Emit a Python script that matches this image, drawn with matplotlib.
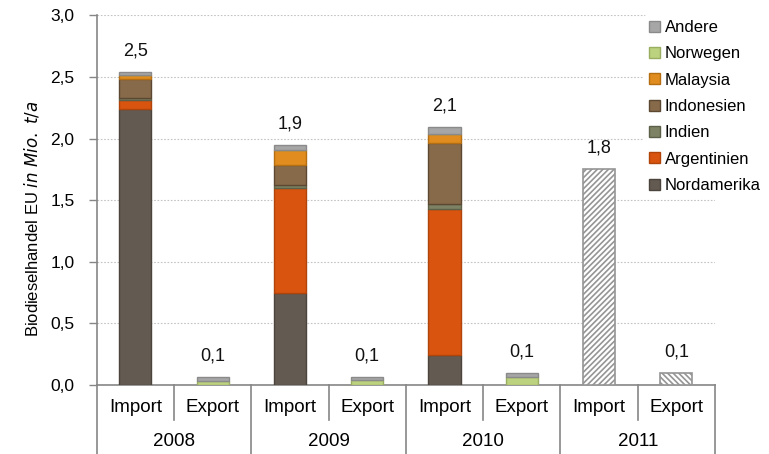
import matplotlib.pyplot as plt
from matplotlib.patches import Patch

# EU biodiesel trade (Mio. t/a), bars: 2008-2010 Import/Export
bars = ["Import", "Export", "Import", "Export", "Import", "Export"]
years = ["2008", "2009", "2010", "2011"]

nordamerika = [2.24, 0.0, 0.75, 0.0, 0.24, 0.0]
argentinien = [0.07, 0.0, 0.85, 0.0, 1.19, 0.0]
indien = [0.015, 0.0, 0.025, 0.0, 0.035, 0.0]
indonesien = [0.155, 0.0, 0.16, 0.0, 0.495, 0.0]
malaysia = [0.033, 0.0, 0.12, 0.0, 0.075, 0.0]
norwegen = [0.0, 0.035, 0.0, 0.037, 0.0, 0.065]
andere = [0.027, 0.027, 0.04, 0.03, 0.055, 0.035]

# 2011 only totals known
total_2011 = [1.75, 0.1]

series = [
    ("Nordamerika", nordamerika, "#635b51", "#4a443c"),
    ("Argentinien", argentinien, "#d9540f", "#b0440b"),
    ("Indien", indien, "#7e8264", "#5d6048"),
    ("Indonesien", indonesien, "#876a4a", "#5c4832"),
    ("Malaysia", malaysia, "#e08c1e", "#b66e12"),
    ("Norwegen", norwegen, "#bcd27e", "#9aae62"),
    ("Andere", andere, "#a6a6a6", "#8a8a8a"),
]

plt.rcParams["font.family"] = ["Liberation Sans", "DejaVu Sans"]
plt.rcParams["hatch.linewidth"] = 1.2

W, H = 769, 454
fig = plt.figure(figsize=(W / 100, H / 100), dpi=100)
x0, x1, y_bot, y_top = 96.7, 715, 385, 15.3
ax = fig.add_axes([x0 / W, 1 - y_bot / H, (x1 - x0) / W, (y_bot - y_top) / H])

width = 0.415
xs = list(range(len(bars)))
bottom = [0.0] * len(bars)
for name, vals, face, edge in series:
    ax.bar(xs, vals, width, bottom=bottom, color=face, edgecolor=edge,
           linewidth=1.0, zorder=3)
    bottom = [b + v for b, v in zip(bottom, vals)]

hatches = ["//////", "\\\\\\\\\\\\"]
for i, (val, hatch) in enumerate(zip(total_2011, hatches)):
    ax.bar(6 + i, val, width, color="white", edgecolor="#959595",
           hatch=hatch, linewidth=1.2, zorder=3)

totals = bottom + total_2011
for i, total in enumerate(totals):
    ax.annotate(f"{total:.1f}".replace(".", ","), (i, total),
                xytext=(0, 9), textcoords="offset points",
                ha="center", va="bottom", fontsize=13, color="#111111")

ax.set_xlim(-0.5, 7.5)
ax.set_ylim(0, 3.0)
yt = [0, 0.5, 1.0, 1.5, 2.0, 2.5, 3.0]
ax.set_yticks(yt)
ax.set_yticklabels([f"{t:.1f}".replace(".", ",") for t in yt], fontsize=12.5)
ax.tick_params(axis="y", length=6, width=1.0, color="#868686", pad=10)
ax.set_xticks([])
ax.yaxis.grid(True, linestyle=(0, (1.5, 1.5)), color="#c4c4c4", linewidth=0.8)
ax.set_axisbelow(True)

for side in ["top", "right"]:
    ax.spines[side].set_visible(False)
for side in ["left", "bottom"]:
    ax.spines[side].set_color("#868686")
    ax.spines[side].set_linewidth(1.2)

# two-level category axis below the plot
trans = ax.get_xaxis_transform()
depth_long = -(H - y_bot) / (y_bot - y_top)
depth_short = -(420 - y_bot) / (y_bot - y_top)
ax.plot([-0.5, -0.5], [0, depth_long], transform=trans, color="#868686",
        lw=1.2, clip_on=False)
for xb in [1.5, 3.5, 5.5, 7.5]:
    ax.plot([xb, xb], [0, depth_long], transform=trans, color="#868686",
            lw=1.2, clip_on=False)
for xb in [0.5, 2.5, 4.5, 6.5]:
    ax.plot([xb, xb], [0, depth_short], transform=trans, color="#868686",
            lw=1.2, clip_on=False)

labels = bars + ["Import", "Export"]
for i, lab in enumerate(labels):
    ax.text(i, -(408 - y_bot) / (y_bot - y_top), lab, transform=trans,
            ha="center", va="center", fontsize=13.5)
for j, yr in enumerate(years):
    ax.text(2 * j + 0.5, -(441 - y_bot) / (y_bot - y_top), yr, transform=trans,
            ha="center", va="center", fontsize=13.5)

fig.text(31.7 / W, 1 - 219 / H, "Biodieselhandel EU $\\it{in\\ Mio.\\ t/a}$",
         rotation=90, ha="center", va="center", fontsize=12)

handles = [Patch(facecolor=face, edgecolor=edge, linewidth=1.0, label=name)
           for name, _, face, edge in reversed(series)]
fig.legend(handles=handles, loc="upper left",
           bbox_to_anchor=(644 / W, 1 - 15 / H), frameon=True,
           facecolor="white", edgecolor="none", framealpha=1.0,
           fontsize=12, handlelength=0.65, handleheight=0.65,
           handletextpad=0.3, labelspacing=0.68, borderpad=0.3,
           borderaxespad=0)

fig.savefig("out.png", dpi=100)
